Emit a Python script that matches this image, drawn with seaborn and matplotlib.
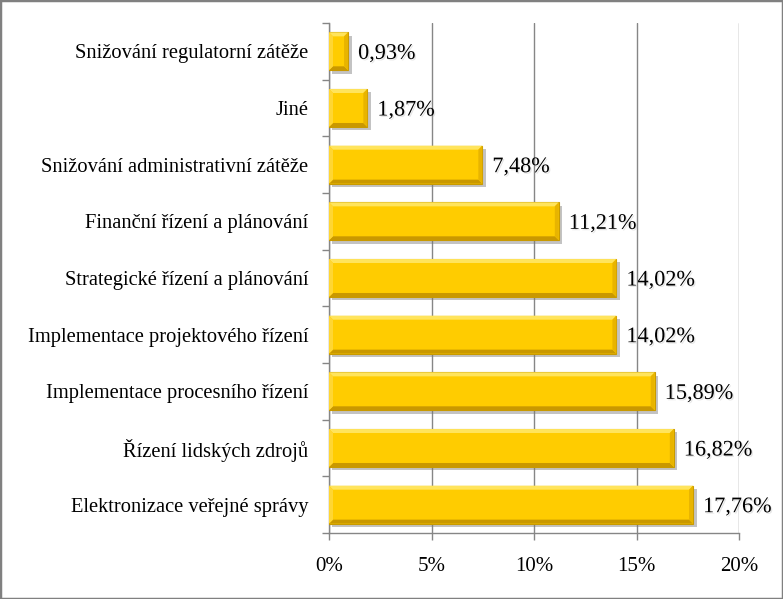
import matplotlib
matplotlib.use("Agg")
import matplotlib.pyplot as plt
import matplotlib.patheffects as pe
from matplotlib.patches import Polygon, Rectangle
import seaborn as sns
import pandas as pd
import numpy as np

categories = [
    "Snižování regulatorní zátěže",
    "Jiné",
    "Snižování administrativní zátěže",
    "Finanční řízení a plánování",
    "Strategické řízení a plánování",
    "Implementace projektového řízení",
    "Implementace procesního řízení",
    "Řízení lidských zdrojů",
    "Elektronizace veřejné správy",
]
values = [0.93, 1.87, 7.48, 11.21, 14.02, 14.02, 15.89, 16.82, 17.76]
x_ticks = [0, 5, 10, 15, 20]
x_ticklabels = ["0%", "5%", "10%", "15%", "20%"]

df = pd.DataFrame({"cat": categories, "val": values})

sns.set_theme(style="white")
plt.rcParams["font.family"] = ["Liberation Serif", "DejaVu Serif"]
plt.rcParams["text.color"] = "black"
plt.rcParams["xtick.labelcolor"] = "black"
plt.rcParams["ytick.labelcolor"] = "black"

fig = plt.figure(figsize=(7.83, 5.99), dpi=100)
ax = fig.add_axes([329 / 783, 1 - 533 / 599, 410 / 783, 510 / 599])

sns.barplot(data=df, y="cat", x="val", order=categories, color="#FFCC00",
            saturation=1, width=0.67, ax=ax, edgecolor="#C89A00", linewidth=0.8,
            zorder=3)

ax.set_xlim(0, 20)
ax.set_ylim(len(categories) - 0.5, -0.5)
ax.set_xticks(x_ticks)
ax.set_xticklabels(x_ticklabels, fontsize=15, color="black")
ax.set_xlabel("")
ax.set_ylabel("")
ax.set_yticks(range(len(categories)))
ax.set_yticklabels(categories, fontsize=14.8, color="black")
ax.set_yticks(np.arange(-0.5, len(categories)), minor=True)

grid_c = "#868686"
ax.xaxis.grid(True, color=grid_c, linewidth=1.0, zorder=0)
ax.set_axisbelow(True)
for s in ["top", "right"]:
    ax.spines[s].set_visible(False)
for s in ["left", "bottom"]:
    ax.spines[s].set_color(grid_c)
    ax.spines[s].set_linewidth(1.0)
ax.tick_params(axis="x", which="major", direction="out", length=5, width=1,
               color=grid_c, pad=12, bottom=True)
ax.tick_params(axis="y", which="major", length=0, pad=15)
ax.tick_params(axis="y", which="minor", direction="out", length=5, width=1,
               color=grid_c, left=True)

# bevel and shadow on bars
fig.canvas.draw()
inv = ax.transData.inverted()
p0 = inv.transform((0, 0))
p1 = inv.transform((4, 4))
bx = abs(p1[0] - p0[0])
by = abs(p1[1] - p0[1])
for patch in list(ax.patches):
    patch.set_path_effects([pe.SimplePatchShadow(offset=(2.5, -2.5), shadow_rgbFace="#7a7a7a", alpha=0.45),
                            pe.Normal()])
    x0 = patch.get_x()
    y0 = patch.get_y()
    w = patch.get_width()
    h = patch.get_height()
    x1, y1 = x0 + w, y0 + h
    b = min(bx, w / 2)
    ax.add_patch(Polygon([(x0, y0), (x1, y0), (x1 - b, y0 + by), (x0 + b, y0 + by)],
                         closed=True, facecolor="#FFE45C", edgecolor="none", zorder=4))
    ax.add_patch(Polygon([(x0, y1), (x1, y1), (x1 - b, y1 - by), (x0 + b, y1 - by)],
                         closed=True, facecolor="#C99800", edgecolor="none", zorder=4))
    ax.add_patch(Polygon([(x1, y0), (x1, y1), (x1 - b, y1 - by), (x1 - b, y0 + by)],
                         closed=True, facecolor="#E8B400", edgecolor="none", zorder=4))
    ax.add_patch(Polygon([(x0, y0), (x0, y1), (x0 + b, y1 - by), (x0 + b, y0 + by)],
                         closed=True, facecolor="#FFD633", edgecolor="none", zorder=4))

txt_fx = [pe.SimplePatchShadow(offset=(1.0, -1.0), shadow_rgbFace="#aaaaaa", alpha=0.3), pe.Normal()]
for i, v in enumerate(values):
    lbl = f"{v:.2f}".replace(".", ",") + "%"
    ax.annotate(lbl, xy=(v, i), xytext=(10, -3), textcoords="offset pixels",
                ha="left", va="center", fontsize=16, color="black",
                path_effects=txt_fx, zorder=6, annotation_clip=False)

fig.patches.append(Rectangle((0, 0), 1, 1, transform=fig.transFigure, fill=False,
                             edgecolor="#808080", linewidth=2.5, zorder=10))

fig.savefig("out.png", dpi=100)
